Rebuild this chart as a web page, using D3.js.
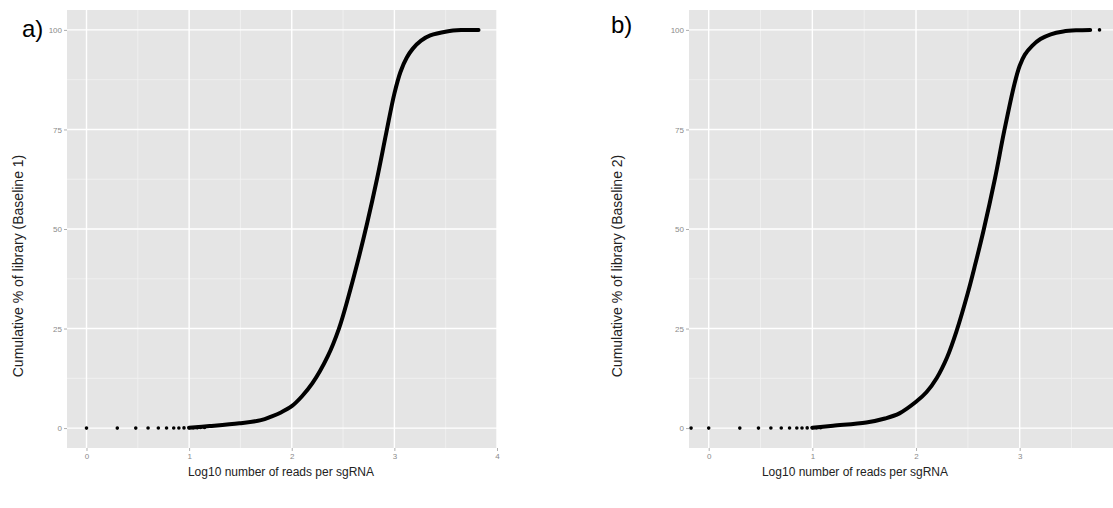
<!DOCTYPE html>
<html>
<head>
<meta charset="utf-8">
<script src="https://cdn.jsdelivr.net/npm/d3@7"></script>
<style>
  html, body { margin: 0; padding: 0; background: #ffffff; }
  svg { display: block; font-family: "Liberation Sans", Arial, sans-serif; }
</style>
</head>
<body>
<svg id="chart" width="1113" height="508"></svg>
<script>
// ---------- data ----------
const yTicks = [0, 25, 50, 75, 100];
const yMinor = [12.5, 37.5, 62.5, 87.5];

// Panel a
const aXTicks = [0, 1, 2, 3, 4];
const aXMinor = [0.5, 1.5, 2.5, 3.5];
const aDotsX = [0, 0.30, 0.48, 0.60, 0.70, 0.78, 0.85, 0.90, 0.95, 1.00, 1.04, 1.08, 1.11, 1.15];
const aDotsY = [0, 0, 0, 0.01, 0.01, 0.02, 0.03, 0.04, 0.05, 0.07, 0.09, 0.11, 0.13, 0.16];
const aCurveX = [1.0, 1.2, 1.49, 1.7, 1.8, 1.9, 2.0, 2.1, 2.2, 2.35, 2.46, 2.55, 2.64, 2.735, 2.83, 2.92, 3.0, 3.06, 3.12, 3.18, 3.26, 3.35, 3.51, 3.65, 3.82];
const aCurveY = [0.1, 0.5, 1.2, 2.0, 2.9, 4.0, 5.5, 8.0, 11.2, 18, 25, 32.8, 41.5, 51.5, 62.5, 74, 84, 89.5, 93, 95.3, 97.3, 98.6, 99.6, 99.95, 100];

// Panel b
const bXTicks = [0, 1, 2, 3];
const bXMinor = [0.5, 1.5, 2.5, 3.5];
const bDotsX = [-0.17, 0, 0.30, 0.48, 0.60, 0.70, 0.78, 0.85, 0.90, 0.95, 1.00, 1.04, 1.08, 3.77];
const bDotsY = [0, 0, 0, 0, 0.01, 0.01, 0.02, 0.03, 0.04, 0.05, 0.07, 0.09, 0.11, 100];
const bCurveX = [1.0, 1.2, 1.52, 1.7, 1.84, 2.0, 2.1, 2.2, 2.3, 2.39, 2.5, 2.57, 2.65, 2.76, 2.85, 2.95, 3.0, 3.05, 3.12, 3.2, 3.3, 3.42, 3.55, 3.68];
const bCurveY = [0.1, 0.6, 1.4, 2.4, 3.7, 6.6, 9.0, 12.6, 17.8, 24.3, 34, 41, 49.5, 62.5, 74.5, 86.5, 91, 93.8, 96, 97.7, 98.9, 99.6, 99.9, 100];

const xTitle = "Log10 number of reads per sgRNA";

// ---------- drawing ----------
const svg = d3.select("#chart");

function drawPanel(cfg) {
  const x = d3.scaleLinear().domain(cfg.xDomain).range(cfg.xRange);
  const y = d3.scaleLinear().domain([-5, 105]).range([448, 10]);
  const g = svg.append("g");
  const clipId = "clip" + cfg.tag;
  svg.append("clipPath").attr("id", clipId).append("rect")
    .attr("x", cfg.xRange[0]).attr("y", 10)
    .attr("width", cfg.xRange[1] - cfg.xRange[0]).attr("height", 438);

  g.append("rect")
    .attr("x", cfg.xRange[0]).attr("y", 10)
    .attr("width", cfg.xRange[1] - cfg.xRange[0]).attr("height", 438)
    .attr("fill", "#e5e5e5");

  const grid = g.append("g");
  grid.selectAll(".ymin").data(yMinor).join("line")
    .attr("x1", cfg.xRange[0]).attr("x2", cfg.xRange[1])
    .attr("y1", d => y(d)).attr("y2", d => y(d))
    .attr("stroke", "#f3f3f3").attr("stroke-width", 0.8);
  grid.selectAll(".xmin").data(cfg.xMinor).join("line")
    .attr("y1", 10).attr("y2", 448)
    .attr("x1", d => x(d)).attr("x2", d => x(d))
    .attr("stroke", "#f3f3f3").attr("stroke-width", 0.8);
  grid.selectAll(".ymaj").data(yTicks).join("line")
    .attr("x1", cfg.xRange[0]).attr("x2", cfg.xRange[1])
    .attr("y1", d => y(d)).attr("y2", d => y(d))
    .attr("stroke", "#ffffff").attr("stroke-width", 1.4);
  grid.selectAll(".xmaj").data(cfg.xTicks).join("line")
    .attr("y1", 10).attr("y2", 448)
    .attr("x1", d => x(d)).attr("x2", d => x(d))
    .attr("stroke", "#ffffff").attr("stroke-width", 1.4);

  // axes
  const yAxis = d3.axisLeft(y).tickValues(yTicks).tickFormat(d3.format("d")).tickSize(3).tickPadding(2);
  const xAxis = d3.axisBottom(x).tickValues(cfg.xTicks).tickFormat(d3.format("d")).tickSize(3).tickPadding(2);
  const ya = g.append("g").attr("transform", `translate(${cfg.xRange[0]},0)`).call(yAxis);
  const xa = g.append("g").attr("transform", `translate(0,448)`).call(xAxis);
  [ya, xa].forEach(a => {
    a.select(".domain").remove();
    a.selectAll(".tick line").attr("stroke", "#9a9a9a").attr("stroke-width", 0.8);
    a.selectAll(".tick text").attr("fill", "#8a8a8a").attr("font-size", 8)
      .attr("font-family", "'Liberation Sans', Arial, sans-serif");
  });

  // data
  const data = g.append("g").attr("clip-path", `url(#${clipId})`);
  const pts = cfg.curveX.map((v, i) => [v, cfg.curveY[i]]);
  data.append("path")
    .datum(pts)
    .attr("d", d3.line().x(d => x(d[0])).y(d => y(d[1])).curve(d3.curveCatmullRom.alpha(0.5)))
    .attr("fill", "none").attr("stroke", "#000").attr("stroke-width", 4)
    .attr("stroke-linecap", "round").attr("stroke-linejoin", "round");
  data.selectAll("circle").data(cfg.dotsX.map((v, i) => [v, cfg.dotsY[i]])).join("circle")
    .attr("cx", d => x(d[0])).attr("cy", d => y(d[1])).attr("r", 1.8).attr("fill", "#000");

  // titles
  svg.append("text")
    .attr("x", cfg.xTitleX).attr("y", 476)
    .attr("text-anchor", "middle").attr("font-size", 12).attr("fill", "#222")
    .text(xTitle);
  svg.append("text")
    .attr("transform", `translate(${cfg.yTitleX},${cfg.yTitleY}) rotate(-90)`)
    .attr("text-anchor", "middle").attr("font-size", 14).attr("fill", "#222")
    .text(cfg.yTitle);
  svg.append("text")
    .attr("x", cfg.labelX).attr("y", cfg.labelY)
    .attr("font-size", 24).attr("fill", "#000")
    .text(cfg.label);
}

drawPanel({
  tag: "a", label: "a)", labelX: 22, labelY: 37,
  xDomain: [-0.19, 4.0], xRange: [67, 497],
  xTicks: aXTicks, xMinor: aXMinor,
  dotsX: aDotsX, dotsY: aDotsY, curveX: aCurveX, curveY: aCurveY,
  xTitleX: 281, yTitleX: 23, yTitleY: 266,
  yTitle: "Cumulative % of library (Baseline 1)"
});
drawPanel({
  tag: "b", label: "b)", labelX: 611, labelY: 33,
  xDomain: [-0.19, 3.9], xRange: [689, 1113],
  xTicks: bXTicks, xMinor: bXMinor,
  dotsX: bDotsX, dotsY: bDotsY, curveX: bCurveX, curveY: bCurveY,
  xTitleX: 855, yTitleX: 622, yTitleY: 266,
  yTitle: "Cumulative % of library (Baseline 2)"
});
</script>
</body>
</html>
